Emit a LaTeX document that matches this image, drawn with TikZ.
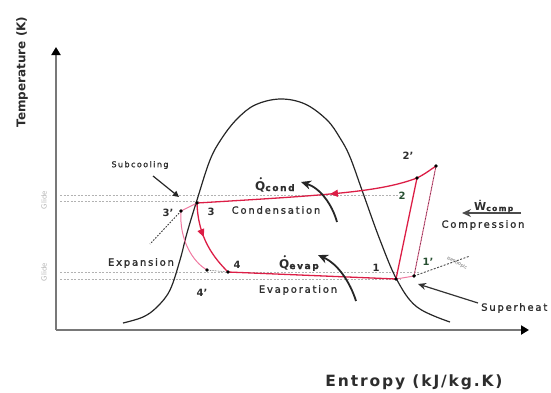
\documentclass[tikz,border=0pt]{standalone}
\usepackage{fontspec}
\setmainfont{DejaVu Sans}
\newfontfamily\lbl[LetterSpace=18, FakeBold=1.2]{DejaVu Sans}
\newfontfamily\lblb[LetterSpace=12]{DejaVu Sans Bold}
\usetikzlibrary{arrows.meta,decorations.markings}
\definecolor{cred}{RGB}{220,30,70}
\definecolor{cpink}{RGB}{240,120,160}
\definecolor{axgray}{RGB}{120,120,120}
\definecolor{txt}{RGB}{45,45,45}
\definecolor{glide}{RGB}{180,180,180}
\definecolor{ptgreen}{RGB}{40,80,50}
\tikzset{
  lab/.style={font=\lbl\fontsize{10}{11}\selectfont, text=txt, inner sep=0pt},
  ptlab/.style={font=\bfseries\fontsize{10}{11}\selectfont, text=txt, inner sep=0pt},
  dotpt/.style={circle, fill=black, inner sep=0pt, minimum size=3.8pt},
  axis/.style={axgray, line width=2.2pt, -{Triangle[length=8pt,width=9pt,black]}},
  dome/.style={black!85, line width=1.2pt},
  cyc/.style={cred, line width=1.3pt},
  cycl/.style={cpink, line width=1pt},
  gdash/.style={gray!60, line width=0.9pt, dash pattern=on 2pt off 1.5pt},
  bigarrow/.style={black!85, line width=1.8pt, -{Stealth[length=10pt,width=9pt]}},
  strarrow/.style={black!80, line width=1.2pt, -{Stealth[length=8pt,width=7pt]}},
}
\begin{document}
\begin{tikzpicture}[x=1pt,y=-1pt]
\useasboundingbox (0,0) rectangle (551,392);
% axes
\coordinate (O) at (56,330);
\coordinate (Ytop) at (56,47);
\coordinate (Xend) at (529,330);
\draw[axis] (O) -- (Ytop);
\draw[axis] (O) -- (Xend);
\node[font=\bfseries\fontsize{12}{13}\selectfont, text=txt, rotate=90] (tlab) at (22,72) {Temperature (K)};
\node[font=\lblb\fontsize{15.5}{17}\selectfont, text=txt] (slab) at (414,382) {Entropy (kJ/kg.K)};
% glide dashed lines
\coordinate (g1a) at (60,195); \coordinate (g1b) at (400,195);
\coordinate (g2a) at (60,201); \coordinate (g2b) at (200,201);
\coordinate (g3a) at (60,272); \coordinate (g3b) at (420,272);
\coordinate (g4a) at (60,279); \coordinate (g4b) at (400,279);
\draw[gdash] (g1a) -- (g1b);
\draw[gdash] (g2a) -- (g2b);
\draw[gdash] (g3a) -- (g3b);
\draw[gdash] (g4a) -- (g4b);
\node[font=\fontsize{7}{8}\selectfont, text=glide, rotate=90] (gl1) at (44,200) {Glide};
\node[font=\fontsize{7}{8}\selectfont, text=glide, rotate=90] (gl2) at (44,272) {Glide};
% dome
\draw[dome] plot[smooth, tension=0.6] coordinates {(123,323) (143,317) (157,307) (170,290) (180,260) (187,233) (197,200) (210,160) (222,138) (237,119) (255,105) (280,99) (305,104) (327,120) (340,138) (350,157) (363,193) (380,240) (397,280) (417,307) (450,322)};
% state points
\coordinate (P3) at (197,203);
\coordinate (P3p) at (181,211);
\coordinate (P4) at (228,272);
\coordinate (P4p) at (207,270);
\coordinate (P1) at (396,279);
\coordinate (P1p) at (414,276);
\coordinate (P2) at (417,178);
\coordinate (P2p) at (436,166);
\coordinate (D3p) at (150,244);
\coordinate (Dis) at (470,256);
% cycle lines
\draw[cycl] (P3) -- (P3p);
\draw[cycl] (P3p) .. controls (179,240) and (193,262) .. (P4p);
\draw[cycl] (P1) -- (P1p);
\draw[cycl] (P1p) -- (P2p);
\draw[black, line width=0.5pt, densely dotted] (P1p) -- (P2p);
\draw[cyc, postaction={decorate}, decoration={markings, mark=at position 0.4 with {\arrow{Triangle[length=8pt,width=7pt]}}}] (P2) .. controls (380,192) and (330,195) .. (P3);
\draw[cyc] (P2) .. controls (425,174) and (430,170) .. (P2p);
\draw[cyc, postaction={decorate}, decoration={markings, mark=at position 0.45 with {\arrow{Triangle[length=8pt,width=7pt]}}}] (P3) .. controls (198,238) and (214,258) .. (P4);
\draw[cyc] (P4) -- (P1);
\draw[cyc] (P1) -- (P2);
% dotted construction lines
\draw[black!80, line width=0.9pt, dash pattern=on 1.5pt off 1.5pt] (P3p) -- (D3p);
\draw[black!70, line width=0.9pt, dash pattern=on 2pt off 1.5pt] (P1p) -- (Dis);
\draw[black!70, line width=0.6pt, densely dotted] (P4p) -- (P4);
\node[font=\fontsize{4.5}{5}\selectfont, text=black!60, rotate=-27] (isen) at (457,263) {isentropic};
% dots
\foreach \p in {P3,P3p,P4,P4p,P1,P1p,P2,P2p} \node[dotpt] (d\p) at (\p) {};
% point labels
\node[ptlab] (l3) at (211,212) {3};
\node[ptlab] (l3p) at (168,213) {3'};
\node[ptlab] (l4) at (237,265) {4};
\node[ptlab] (l4p) at (202,293) {4'};
\node[ptlab] (l1) at (376,268) {1};
\node[ptlab, text=ptgreen] (l1p) at (428,262) {1'};
\node[ptlab, text=ptgreen] (l2) at (402,196) {2};
\node[ptlab] (l2p) at (408,156) {2'};
% heat and work arrows
\coordinate (qc0) at (337,222); \coordinate (qc1) at (301,182);
\draw[bigarrow] (qc0) .. controls (332,204) and (320,188) .. (qc1);
\coordinate (qe0) at (356,301); \coordinate (qe1) at (318,255);
\draw[bigarrow] (qe0) .. controls (350,282) and (338,264) .. (qe1);
\coordinate (w0) at (521,213); \coordinate (w1) at (462,213);
\draw[black!70, line width=1.4pt, -{Stealth[length=9pt,width=8pt]}] (w0) -- (w1);
\coordinate (sh0) at (478,303); \coordinate (sh1) at (418,284);
\draw[strarrow] (sh0) -- (sh1);
\coordinate (sc0) at (153,176); \coordinate (sc1) at (179,197);
\draw[black!85, line width=1.2pt, -{Triangle[length=6pt,width=6pt]}] (sc0) -- (sc1);
% text labels
\node[lab, font=\lbl\fontsize{8}{9}\selectfont] (subc) at (140,165) {Subcooling};
\node[lab] (cond) at (276,210) {Condensation};
\node[lab] (evap) at (298,290) {Evaporation};
\node[lab] (expn) at (141,263) {Expansion};
\node[lab] (comp) at (483,225) {Compression};
\node[lab, anchor=west] (suph) at (481,308) {Superheat};
\node[lab, font=\bfseries\fontsize{12}{13}\selectfont, anchor=base west] (qcond) at (255,190) {Q{\lbl\fontsize{9}{10}\selectfont\raisebox{-1pt}{cond}}};
\fill[txt] (260.8,178.2) circle (1.2pt);
\node[lab, font=\bfseries\fontsize{12}{13}\selectfont, anchor=base west] (qevap) at (279,268) {Q{\lbl\fontsize{9}{10}\selectfont\raisebox{-1pt}{evap}}};
\fill[txt] (284.8,256.2) circle (1.2pt);
\node[lab, font=\bfseries\fontsize{11}{12}\selectfont, anchor=base west] (wcomp) at (474,210) {Ẇ{\lbl\fontsize{7.5}{8}\selectfont\raisebox{-1pt}{comp}}};
\end{tikzpicture}
\end{document}
